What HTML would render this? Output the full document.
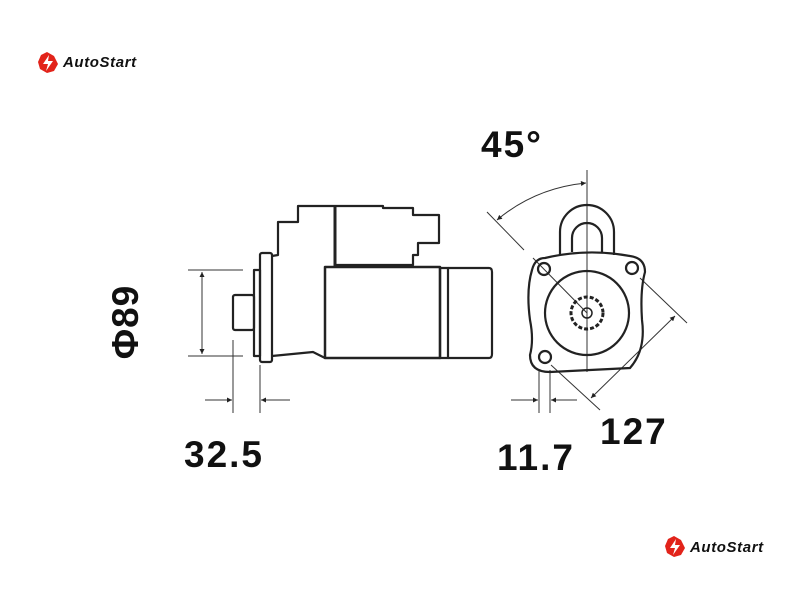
<!DOCTYPE html>
<html><head><style>
html,body{margin:0;padding:0;background:#fff;width:800px;height:600px;overflow:hidden}
svg{display:block}
text{font-family:"Liberation Sans",sans-serif}
</style></head><body>
<svg width="800" height="600" viewBox="0 0 800 600" xmlns="http://www.w3.org/2000/svg">
<defs>
<marker id="a" viewBox="0 0 10 10" refX="10" refY="5" markerWidth="7" markerHeight="5" orient="auto-start-reverse"><path d="M0,0L10,5L0,10z" fill="#222"/></marker>
</defs>
<g transform="translate(38,52)">
<path d="M9,0 L16,4 L20,12 L16,19 L9,21 L2,17 L0,10 L3,3Z" fill="#e2231a"/>
<path d="M11,3 L5,12 L10,12 L8,19 L15,9 L10,9Z" fill="#fff"/>
<text x="25" y="15" font-size="15" font-style="italic" font-weight="bold" fill="#111" letter-spacing="0.6">AutoStart</text>
</g>
<g transform="translate(665,536)">
<path d="M9,0 L16,4 L20,12 L16,19 L9,21 L2,17 L0,10 L3,3Z" fill="#e2231a"/>
<path d="M11,3 L5,12 L10,12 L8,19 L15,9 L10,9Z" fill="#fff"/>
<text x="25" y="16" font-size="15" font-style="italic" font-weight="bold" fill="#111" letter-spacing="0.6">AutoStart</text>
</g>
<g fill="none" stroke="#222" stroke-width="2.2" stroke-linejoin="round">
<path d="M272,256 L278,255 L278,222 L298,222 L298,206 L383,206 L383,208 L413,208 L413,215 L439,215 L439,243 L418,243 L418,255 L413,255 L413,265 L335,265"/>
<line x1="335" y1="206" x2="335" y2="266" stroke-width="3"/>
<rect x="325" y="267" width="115" height="91" stroke-width="2.5"/>
<rect x="440" y="268" width="8" height="90"/>
<path d="M448,268 L489,268 Q492,268 492,272 L492,354 Q492,358 489,358 L448,358"/>
<rect x="260" y="253" width="12" height="109" rx="2"/>
<rect x="254" y="270" width="6" height="86"/>
<rect x="233" y="295" width="21" height="35" rx="2"/>
<path d="M272,356 L313,352 L325,358"/>
</g>
<g stroke="#333" stroke-width="1" fill="none">
<line x1="188" y1="270" x2="243" y2="270"/>
<line x1="188" y1="356" x2="243" y2="356"/>
<line x1="202" y1="272" x2="202" y2="354" marker-start="url(#a)" marker-end="url(#a)"/>
<line x1="233" y1="340" x2="233" y2="413"/>
<line x1="260" y1="365" x2="260" y2="413"/>
<line x1="205" y1="400" x2="232" y2="400" marker-end="url(#a)"/>
<line x1="290" y1="400" x2="261" y2="400" marker-end="url(#a)"/>
<line x1="539" y1="370" x2="539" y2="413"/>
<line x1="550" y1="370" x2="550" y2="413"/>
<line x1="511" y1="400" x2="538" y2="400" marker-end="url(#a)"/>
<line x1="577" y1="400" x2="551" y2="400" marker-end="url(#a)"/>
<line x1="587" y1="170" x2="587" y2="372"/>
<line x1="487" y1="212" x2="524" y2="250"/>
<line x1="533" y1="258" x2="587" y2="313"/>
<path d="M497,220 Q535,188 586,183" marker-start="url(#a)" marker-end="url(#a)"/>
<line x1="640" y1="278" x2="687" y2="323"/>
<line x1="551" y1="365" x2="600" y2="410"/>
<line x1="675" y1="316" x2="591" y2="398" marker-start="url(#a)" marker-end="url(#a)"/>
</g>
<g fill="none" stroke="#222" stroke-width="2.2">
<path d="M560,255 L560,232 A27,27 0 0 1 614,232 L614,255"/>
<path d="M572,252 L572,238 A15,15 0 0 1 602,238 L602,252"/>
<path d="M545,258 Q587,248 630,256 Q645,258 645,272 Q640,290 642,320 Q646,350 630,368 Q590,370 550,372 Q530,372 530,355 Q534,340 530,320 Q526,290 532,270 Q535,258 545,258Z"/>
<circle cx="544" cy="269" r="6"/>
<circle cx="632" cy="268" r="6"/>
<circle cx="545" cy="357" r="6"/>
<circle cx="587" cy="313" r="42"/>
<circle cx="587" cy="313" r="16" stroke-dasharray="4 2" stroke-width="3"/>
<circle cx="587" cy="313" r="5" stroke-width="1.5"/>
</g>
<g font-weight="bold" fill="#111" font-size="37" letter-spacing="2">
<text x="481" y="157">45°</text>
<text x="600" y="444">127</text>
<text x="497" y="470">11.7</text>
<text x="184" y="467">32.5</text>
<text transform="translate(138,322) rotate(-90)" text-anchor="middle" letter-spacing="1">Φ89</text>
</g>
</svg>
</body></html>
